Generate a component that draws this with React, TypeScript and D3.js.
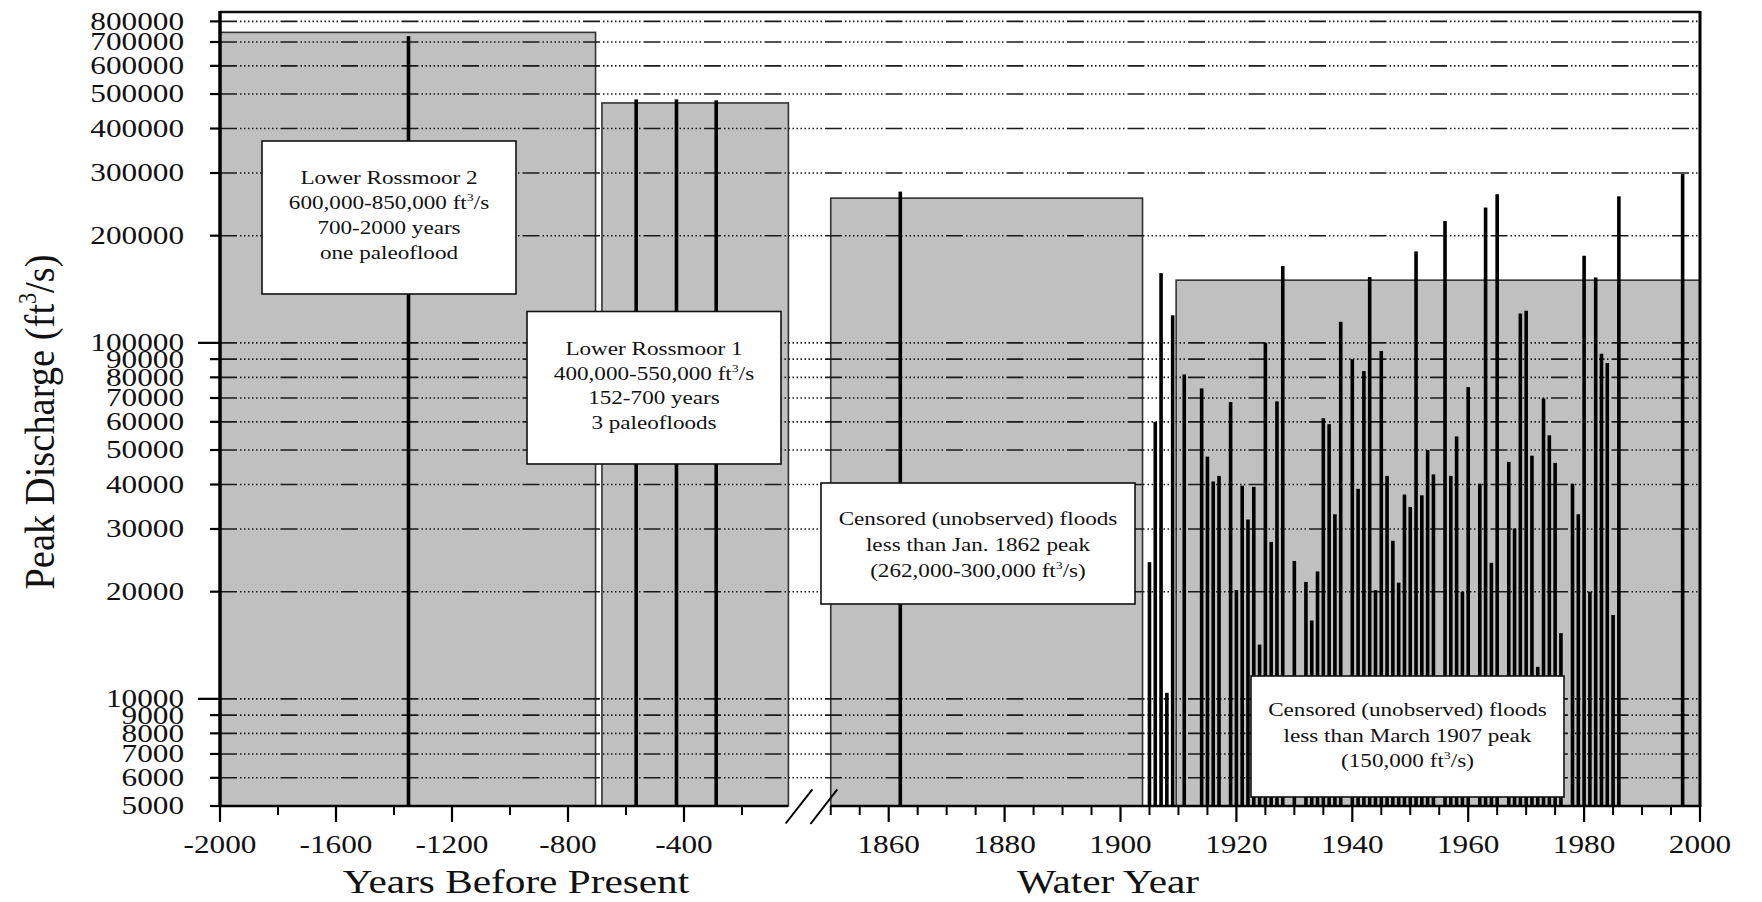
import React from "react";
import * as d3 from "d3";

// ---- Data -----------------------------------------------------------------

// Y axis (log) tick values and labels
const yTickValues = [
  5000, 6000, 7000, 8000, 9000, 10000, 20000, 30000, 40000, 50000, 60000,
  70000, 80000, 90000, 100000, 200000, 300000, 400000, 500000, 600000, 700000,
  800000,
];
const yMajorTicks = [10000, 100000];

// Years-before-present segment ticks
const bpTicks = [-2000, -1600, -1200, -800, -400];
const bpMinorTicks = [-1800, -1400, -1000, -600, -200];

// Water-year segment ticks
const wyTicks = [1860, 1880, 1900, 1920, 1940, 1960, 1980, 2000];

// Paleoflood peaks (years before present, ft3/s)
const paleoYears = [-1350, -565, -426, -289];
const paleoPeaks = [727000, 483000, 483000, 480000];

// Historical flood peak
const histYears = [1862];
const histPeaks = [266000];

// Systematic annual peak record (water year, ft3/s)
const sysYears = [
  1905, 1906, 1907, 1908, 1909, 1911, 1914, 1915, 1916, 1917, 1919, 1920,
  1921, 1922, 1923, 1924, 1925, 1926, 1927, 1928, 1930, 1932, 1933, 1934,
  1935, 1936, 1937, 1938, 1940, 1941, 1942, 1943, 1944, 1945, 1946, 1947,
  1948, 1949, 1950, 1951, 1952, 1953, 1954, 1956, 1957, 1958, 1959, 1960,
  1962, 1963, 1964, 1965, 1967, 1968, 1969, 1970, 1971, 1972, 1973, 1974,
  1975, 1976, 1978, 1979, 1980, 1981, 1982, 1983, 1984, 1985, 1986, 1997,
];
const sysPeaks = [
  24200, 60000, 157000, 10400, 119500, 81500, 74500, 47900, 40800, 42300,
  68200, 20200, 39700, 31900, 39400, 14200, 100000, 27600, 68500, 164300,
  24400, 21300, 16600, 22800, 61400, 59100, 33000, 114600, 90000, 38900,
  83300, 153000, 20200, 94900, 42300, 27800, 21200, 37500, 34600, 180700,
  37300, 50000, 42700, 220000, 42300, 54600, 20000, 75100, 40200, 240000,
  24100, 261500, 46300, 30100, 120900, 123100, 48200, 12300, 69800, 55000,
  46000, 15300, 40200, 33000, 175700, 20000, 152600, 93200, 87800, 17200,
  258000, 298000,
];

// Shaded perception-threshold periods
const paleoPeriodStart = [-2000, -683];
const paleoPeriodEnd = [-705, -40];
const paleoPeriodTop = [745000, 472000];

const histPeriodStart = [1850, 1909.6];
const histPeriodEnd = [1903.8, 2000];
const histPeriodTop = [255000, 150000];

// ---- Layout ---------------------------------------------------------------

const W = 1762;
const H = 902;
const SX = 1.25; // horizontal stretch applied to lettering
const FONT = "'Liberation Serif', 'Times New Roman', serif";

const PLOT_LEFT = 220;
const PLOT_RIGHT = 1700;
const PLOT_TOP = 12;
const PLOT_BOTTOM = 806;
const BP_END = 788; // end of the years-before-present axis segment
const WY_START = 830.75;

const gridDash = [17, 3, ...Array(9).fill([1.5, 2.5]).flat(), 1.5, 3].join(" ");

type TxtProps = {
  x: number;
  y: number;
  size: number;
  anchor?: "start" | "middle" | "end";
  baseline?: string;
  rotate?: number;
  sx?: number;
  children: React.ReactNode;
};

function Txt({ x, y, size, anchor = "middle", baseline, rotate, sx = SX, children }: TxtProps) {
  const rot = rotate ? ` rotate(${rotate})` : "";
  return (
    <text
      transform={`translate(${x},${y}) scale(${sx},1)${rot}`}
      fontSize={size}
      textAnchor={anchor}
      dominantBaseline={baseline}
      fontFamily={FONT}
      fill="#111"
    >
      {children}
    </text>
  );
}

function Cube({ size }: { size: number }) {
  return (
    <>
      <tspan fontSize={size * 0.6} dy={-size * 0.42}>
        3
      </tspan>
      <tspan dy={size * 0.42}>/s</tspan>
    </>
  );
}

type NoteProps = {
  x0: number;
  x1: number;
  y0: number;
  y1: number;
  lines: React.ReactNode[];
  firstBaseline: number;
  step: number;
};

function Note({ x0, x1, y0, y1, lines, firstBaseline, step }: NoteProps) {
  const cx = (x0 + x1) / 2;
  return (
    <g>
      <rect x={x0} y={y0} width={x1 - x0} height={y1 - y0} fill="#fff" stroke="#111" strokeWidth={1.6} />
      {lines.map((l, i) => (
        <Txt key={i} x={cx} y={firstBaseline + i * step} size={18.5}>
          {l}
        </Txt>
      ))}
    </g>
  );
}

export default function App() {
  const y = d3.scaleLog().domain([5000, 850000]).range([PLOT_BOTTOM, PLOT_TOP]);
  const xBP = d3.scaleLinear().domain([-2000, 0]).range([PLOT_LEFT, 800]);
  const xWY = d3.scaleLinear().domain([1850, 2000]).range([WY_START, PLOT_RIGHT]);

  const wyMinor = d3.range(1850, 2001, 5).filter((v) => !wyTicks.includes(v));
  const barW = 3.6;

  return (
    <svg
      width={W}
      height={H}
      viewBox={`0 0 ${W} ${H}`}
      style={{ position: "absolute", left: 0, top: 0, background: "#fff" }}
    >
      <rect x={0} y={0} width={W} height={H} fill="#fff" />

      {/* shaded threshold periods */}
      {paleoPeriodStart.map((s, i) => (
        <rect
          key={`pp${i}`}
          x={xBP(s)}
          y={y(paleoPeriodTop[i])}
          width={xBP(paleoPeriodEnd[i]) - xBP(s)}
          height={PLOT_BOTTOM - y(paleoPeriodTop[i])}
          fill="#c0c0c0"
          stroke="#333"
          strokeWidth={1.6}
        />
      ))}
      {histPeriodStart.map((s, i) => (
        <rect
          key={`hp${i}`}
          x={xWY(s)}
          y={y(histPeriodTop[i])}
          width={xWY(histPeriodEnd[i]) - xWY(s)}
          height={PLOT_BOTTOM - y(histPeriodTop[i])}
          fill="#c0c0c0"
          stroke="#333"
          strokeWidth={1.6}
        />
      ))}

      {/* horizontal grid */}
      {yTickValues
        .filter((v) => v !== 5000)
        .map((v) => (
          <line
            key={`g${v}`}
            x1={PLOT_LEFT}
            x2={PLOT_RIGHT}
            y1={y(v)}
            y2={y(v)}
            stroke="#1a1a1a"
            strokeWidth={1.6}
            strokeDasharray={gridDash}
          />
        ))}

      {/* peaks */}
      {paleoYears.map((yr, i) => (
        <rect
          key={`p${i}`}
          x={xBP(yr) - barW / 2}
          y={y(paleoPeaks[i])}
          width={barW}
          height={PLOT_BOTTOM - y(paleoPeaks[i])}
          fill="#000"
        />
      ))}
      {histYears.map((yr, i) => (
        <rect
          key={`h${i}`}
          x={xWY(yr) - barW / 2}
          y={y(histPeaks[i])}
          width={barW}
          height={PLOT_BOTTOM - y(histPeaks[i])}
          fill="#000"
        />
      ))}
      {sysYears.map((yr, i) => (
        <rect
          key={`s${i}`}
          x={xWY(yr) - barW / 2}
          y={y(sysPeaks[i])}
          width={barW}
          height={PLOT_BOTTOM - y(sysPeaks[i])}
          fill="#000"
        />
      ))}

      {/* annotation boxes */}
      <Note
        x0={262}
        x1={516}
        y0={141}
        y1={294}
        firstBaseline={184}
        step={25}
        lines={[
          "Lower Rossmoor 2",
          <>600,000-850,000 ft<Cube size={18.5} /></>,
          "700-2000 years",
          "one paleoflood",
        ]}
      />
      <Note
        x0={527}
        x1={781}
        y0={311.5}
        y1={464}
        firstBaseline={355}
        step={24.5}
        lines={[
          "Lower Rossmoor 1",
          <>400,000-550,000 ft<Cube size={18.5} /></>,
          "152-700 years",
          "3 paleofloods",
        ]}
      />
      <Note
        x0={821}
        x1={1135}
        y0={483}
        y1={604}
        firstBaseline={525}
        step={26}
        lines={[
          "Censored (unobserved) floods",
          "less than Jan. 1862 peak",
          <>(262,000-300,000 ft<Cube size={18.5} />)</>,
        ]}
      />
      <Note
        x0={1251}
        x1={1564}
        y0={676}
        y1={797}
        firstBaseline={716}
        step={25.5}
        lines={[
          "Censored (unobserved) floods",
          "less than March 1907 peak",
          <>(150,000 ft<Cube size={18.5} />)</>,
        ]}
      />

      {/* frame */}
      <line x1={PLOT_LEFT} x2={PLOT_RIGHT} y1={PLOT_TOP} y2={PLOT_TOP} stroke="#111" strokeWidth={2.5} />
      <line x1={PLOT_LEFT} x2={PLOT_LEFT} y1={PLOT_TOP - 1} y2={PLOT_BOTTOM + 1} stroke="#000" strokeWidth={3.5} />
      <line x1={PLOT_RIGHT} x2={PLOT_RIGHT} y1={PLOT_TOP - 1} y2={PLOT_BOTTOM + 1} stroke="#000" strokeWidth={3} />
      <line x1={PLOT_LEFT} x2={BP_END} y1={PLOT_BOTTOM} y2={PLOT_BOTTOM} stroke="#000" strokeWidth={2.5} />
      <line x1={WY_START} x2={PLOT_RIGHT} y1={PLOT_BOTTOM} y2={PLOT_BOTTOM} stroke="#000" strokeWidth={2.5} />

      {/* axis break marks */}
      <line x1={785.6} y1={823.5} x2={812.4} y2={789.3} stroke="#000" strokeWidth={2} />
      <line x1={810.5} y1={824} x2={837.3} y2={789.3} stroke="#000" strokeWidth={2} />

      {/* y ticks and labels */}
      {yTickValues.map((v) => (
        <g key={`yt${v}`}>
          <line
            x1={yMajorTicks.includes(v) ? 198 : 210}
            x2={PLOT_LEFT}
            y1={y(v)}
            y2={y(v)}
            stroke="#000"
            strokeWidth={2.2}
          />
          <Txt x={184} y={y(v)} size={25} anchor="end" baseline="central">
            {String(v)}
          </Txt>
        </g>
      ))}

      {/* years-before-present ticks */}
      {bpTicks.map((v) => (
        <g key={`bp${v}`}>
          <line x1={xBP(v)} x2={xBP(v)} y1={PLOT_BOTTOM} y2={822} stroke="#000" strokeWidth={2.2} />
          <Txt x={xBP(v)} y={853} size={25}>
            {String(v)}
          </Txt>
        </g>
      ))}
      {bpMinorTicks.map((v) => (
        <line key={`bpm${v}`} x1={xBP(v)} x2={xBP(v)} y1={PLOT_BOTTOM} y2={815} stroke="#000" strokeWidth={2} />
      ))}

      {/* water-year ticks */}
      {wyTicks.map((v) => (
        <g key={`wy${v}`}>
          <line x1={xWY(v)} x2={xWY(v)} y1={PLOT_BOTTOM} y2={822} stroke="#000" strokeWidth={2.2} />
          <Txt x={xWY(v)} y={853} size={25}>
            {String(v)}
          </Txt>
        </g>
      ))}
      {wyMinor.map((v) => (
        <line key={`wym${v}`} x1={xWY(v)} x2={xWY(v)} y1={PLOT_BOTTOM} y2={815} stroke="#000" strokeWidth={2} />
      ))}

      {/* axis titles */}
      <Txt x={516} y={893} size={33}>
        Years Before Present
      </Txt>
      <Txt x={1108} y={893} size={33}>
        Water Year
      </Txt>
      <Txt x={54} y={422} size={38.5} sx={1.12} rotate={-90}>
        Peak Discharge (ft
        <tspan fontSize={22} dy={-16}>
          3
        </tspan>
        <tspan dy={16}>/s)</tspan>
      </Txt>
    </svg>
  );
}
